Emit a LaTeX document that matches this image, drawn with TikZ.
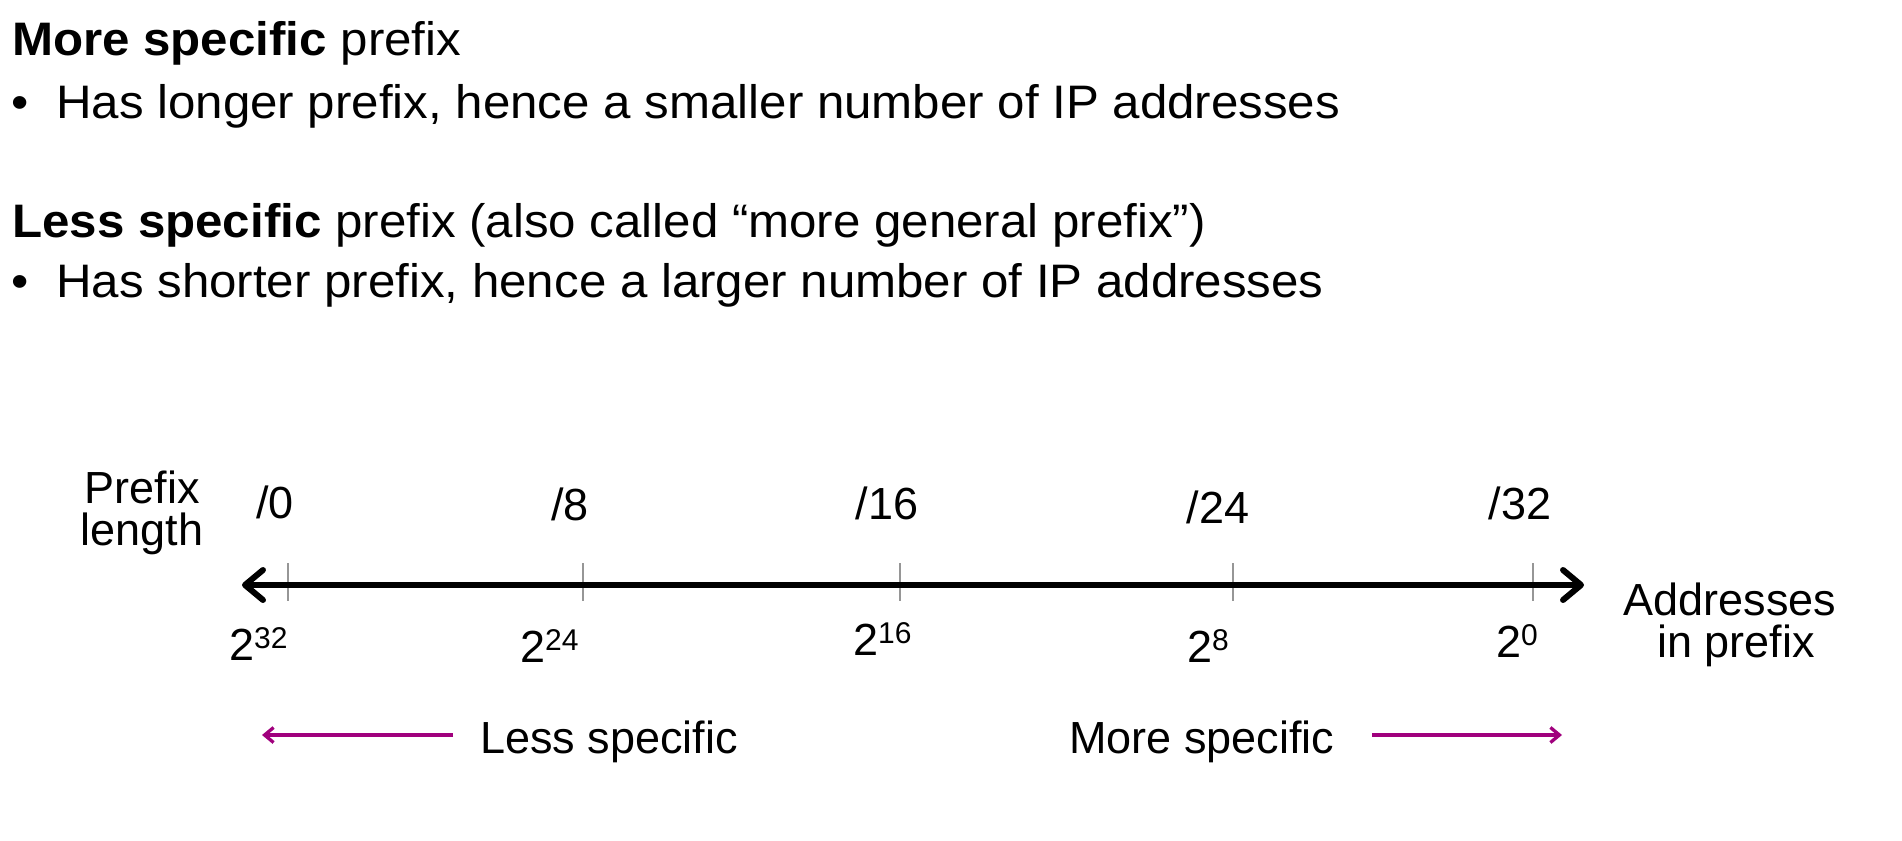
\documentclass[tikz,border=0pt]{standalone}
\usepackage{fontspec}
\setmainfont{Liberation Sans}
\newfontfamily\topfont[FakeStretch=1.048]{Liberation Sans}
\usetikzlibrary{arrows.meta}
\definecolor{mag}{RGB}{160,0,125}
\definecolor{tickgray}{RGB}{150,150,150}
\newcommand{\supx}[1]{\raisebox{12pt}{\fontsize{30}{30}\selectfont #1}}
\begin{document}
\begin{tikzpicture}[x=1pt,y=-1pt,
  toptext/.style={inner sep=0pt, anchor=base west, font=\topfont\fontsize{47}{56}\selectfont},
  axlabel/.style={inner sep=0pt, anchor=base, font=\fontsize{45}{54}\selectfont},
  explabel/.style={inner sep=0pt, anchor=base west, font=\fontsize{45}{54}\selectfont},
  tickline/.style={draw=tickgray, line width=1.2pt},
  axisline/.style={line width=6pt, {Straight Barb[length=18pt,width=30pt,round]}-{Straight Barb[length=18pt,width=30pt,round]}},
  magarrow/.style={draw=mag, line width=3.3pt, -{Straight Barb[length=9pt,width=15pt]}}
]
\useasboundingbox (0,0) rectangle (1902,840);

% top text
\node[toptext] (h1) at (12,56) {\textbf{More specific} prefix};
\node[toptext] (b1) at (11,118) {•};
\node[toptext] (t1) at (56,118) {Has longer prefix, hence a smaller number of IP addresses};
\node[toptext] (h2) at (12,237) {\textbf{Less specific} prefix (also called “more general prefix”)};
\node[toptext] (b2) at (11,297) {•};
\node[toptext] (t2) at (56,297) {Has shorter prefix, hence a larger number of IP addresses};

% axis
\coordinate (axL) at (242,585);
\coordinate (axR) at (1584,585);
\foreach \n/\x in {0/288, 8/583, 16/900, 24/1233, 32/1533} {
  \coordinate (tt\n) at (\x,563);
  \coordinate (tb\n) at (\x,601);
  \draw[tickline] (tt\n) -- (tb\n);
}
\draw[axisline] (axL) -- (axR);

% prefix length labels
\node[axlabel] (pl1) at (142,503) {Prefix};
\node[axlabel] (pl2) at (142,545) {length};
\node[axlabel] (p0) at (275,518) {/0};
\node[axlabel] (p8) at (570,520) {/8};
\node[axlabel] (p16) at (887,519) {/16};
\node[axlabel] (p24) at (1218,523) {/24};
\node[axlabel] (p32) at (1520,519) {/32};

% address counts
\node[explabel] (e32) at (229,660) {2\supx{32}};
\node[explabel] (e24) at (520,662) {2\supx{24}};
\node[explabel] (e16) at (853,655) {2\supx{16}};
\node[explabel] (e8) at (1187,662) {2\supx{8}};
\node[explabel] (e0) at (1496,657) {2\supx{0}};
\node[axlabel] (ad1) at (1730,615) {Addresses};
\node[axlabel] (ad2) at (1736,657) {in prefix};

% specificity
\node[explabel] (less) at (480,753) {Less specific};
\node[explabel] (more) at (1069,753) {More specific};
\coordinate (lA) at (453,735);
\coordinate (lB) at (262,735);
\coordinate (rA) at (1372,735);
\coordinate (rB) at (1562,735);
\draw[magarrow] (lA) -- (lB);
\draw[magarrow] (rA) -- (rB);
\end{tikzpicture}
\end{document}
